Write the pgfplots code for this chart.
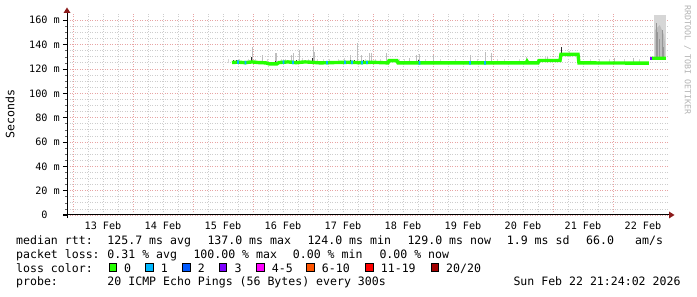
\documentclass[border=0pt]{standalone}
\usepackage{pgfplots}
\pgfplotsset{compat=1.18}
\usepackage{fontspec}
\setmainfont{DejaVu Sans Mono}
\definecolor{lc0}{HTML}{26FF00}
\definecolor{lc1}{HTML}{00B8FF}
\definecolor{lc2}{HTML}{0059FF}
\definecolor{lc3}{HTML}{7E00FF}
\definecolor{lc4}{HTML}{FF00FF}
\definecolor{lc6}{HTML}{FF5500}
\definecolor{lc11}{HTML}{FF0000}
\definecolor{lc20}{HTML}{A10000}
\definecolor{mgrid}{HTML}{E8A4A4}
\definecolor{ngrid}{HTML}{CDCDCD}
\definecolor{arrowred}{HTML}{8B1A1A}
\definecolor{smokeL}{HTML}{D6D6D6}
\definecolor{smokeM}{HTML}{BEBEBE}
\definecolor{smokeD}{HTML}{969696}
\definecolor{smokeK}{HTML}{303030}
\newcommand{\lf}{\fontsize{11.6}{13}\selectfont}
\newcommand{\tf}{\fontsize{10.2}{12}\selectfont}
\begin{document}
\begin{tikzpicture}
\path[use as bounding box] (0,0) rectangle (697bp,297bp);
\begin{axis}[
  at={(67bp,82bp)}, anchor=south west,
  scale only axis, width=601bp, height=202bp,
  xmin=-0.1, xmax=9.917, ymin=0, ymax=166,
  axis lines*=left, axis line style={draw=none},
  xtick={0,1,2,3,4,5,6,7,8,9},
  xticklabels={13 Feb,14 Feb,15 Feb,16 Feb,17 Feb,18 Feb,19 Feb,20 Feb,21 Feb,22 Feb},
  minor x tick num=3,
  ytick={0,20,40,60,80,100,120,140,160},
  yticklabels={0\hphantom{0m},20 m,40 m,60 m,80 m,100 m,120 m,140 m,160 m},
  minor y tick num=3,
  grid=both,
  major grid style={mgrid, line width=0.8bp, dash pattern=on 1bp off 1.5bp},
  minor grid style={ngrid, line width=0.8bp, dash pattern=on 1bp off 1.5bp},
  tick align=outside, major tick length=4bp, minor tick length=2bp,
  ytick style={black, line width=0.6bp},
  every minor y tick/.append style={black!60},
  xtick style={draw=none},
  xticklabel style={font=\tf, xshift=30bp, yshift=-2.5bp, anchor=north, inner sep=0pt},
  yticklabel style={font=\tf, anchor=east, inner sep=0pt, xshift=-3bp},
  unbounded coords=jump,
]
% big smoke block at the end
\addplot[fill=smokeL, draw=none] coordinates {(9.683,128) (9.683,164.4) (9.883,164.4) (9.883,128)} -- cycle;
\addplot[fill=smokeM, draw=none] coordinates {(9.70,128) (9.70,152) (9.78,156) (9.85,148) (9.87,140) (9.87,128)} -- cycle;
\addplot[smokeD, line width=1bp] coordinates {
(9.717,128) (9.717,158) (nan,nan)
(9.75,128) (9.75,150) (nan,nan)
(9.783,128) (9.783,145) (nan,nan)
(9.817,128) (9.817,152) (nan,nan)
(9.85,128) (9.85,138)
};
% light smoke sticks
\addplot[smokeL, line width=1bp] coordinates {
(2.600,125) (2.600,128.5) (nan,nan)
(2.783,125) (2.783,128) (nan,nan)
(2.917,125) (2.917,128.5) (nan,nan)
(3.050,125) (3.050,128) (nan,nan)
(3.250,125) (3.250,128.5) (nan,nan)
(3.467,125) (3.467,128.5) (nan,nan)
(3.550,125) (3.550,128) (nan,nan)
(3.833,125) (3.833,129) (nan,nan)
(3.917,125) (3.917,128.5) (nan,nan)
(4.083,125) (4.083,128) (nan,nan)
(4.183,125) (4.183,128.5) (nan,nan)
(4.283,125) (4.283,128) (nan,nan)
(4.417,125) (4.417,128.5) (nan,nan)
(4.517,125) (4.517,129) (nan,nan)
(4.883,125) (4.883,128.5) (nan,nan)
(5.050,125) (5.050,128) (nan,nan)
(5.117,125) (5.117,128.5) (nan,nan)
(5.450,125) (5.450,128) (nan,nan)
(5.533,125) (5.533,128.5) (nan,nan)
(5.867,125) (5.867,128) (nan,nan)
(6.117,125) (6.117,128) (nan,nan)
(6.367,125) (6.367,128) (nan,nan)
(6.750,125) (6.750,128.5) (nan,nan)
(7.083,125) (7.083,128) (nan,nan)
(7.200,125) (7.200,128) (nan,nan)
(7.450,125) (7.450,128) (nan,nan)
(7.867,125) (7.867,129.5) (nan,nan)
(8.283,130) (8.283,134.5) (nan,nan)
(8.617,125) (8.617,128) (nan,nan)
(8.783,125) (8.783,128) (nan,nan)
(8.950,125) (8.950,128) (nan,nan)
(9.200,125) (9.200,128) (nan,nan)
(9.450,125) (9.450,128)
};
% taller smoke spikes
\addplot[smokeM, line width=1bp] coordinates {
(2.988,125) (2.988,138.3) (nan,nan)
(3.162,125) (3.162,131.5) (nan,nan)
(3.367,125) (3.367,132.9) (nan,nan)
(3.400,125) (3.400,132.9) (nan,nan)
(3.645,125) (3.645,131.5) (nan,nan)
(3.683,125) (3.683,132.9) (nan,nan)
(3.783,125) (3.783,135.6) (nan,nan)
(4.005,125) (4.005,138.3) (nan,nan)
(4.022,125) (4.022,134.0) (nan,nan)
(4.617,125) (4.617,131.5) (nan,nan)
(4.750,125) (4.750,141.0) (nan,nan)
(4.812,125) (4.812,131.5) (nan,nan)
(4.950,125) (4.950,132.9) (nan,nan)
(4.983,125) (4.983,133.0) (nan,nan)
(5.217,125) (5.217,133.0) (nan,nan)
(5.605,125) (5.605,128.8) (nan,nan)
(5.733,125) (5.733,131.5) (nan,nan)
(5.772,125) (5.772,132.3) (nan,nan)
(6.005,125) (6.005,131.5) (nan,nan)
(6.617,125) (6.617,131.5) (nan,nan)
(6.883,125) (6.883,134.2) (nan,nan)
(6.978,125) (6.978,132.9) (nan,nan)
(7.562,125) (7.562,130.0) (nan,nan)
(7.905,125) (7.905,129.6) (nan,nan)
(9.033,125) (9.033,128.8) (nan,nan)
(9.338,125) (9.338,128.8)
};
% dense (dark) smoke near the median
\addplot[smokeK, line width=1bp] coordinates {
(2.683,124.5) (2.683,127) (nan,nan)
(2.717,124.5) (2.717,127) (nan,nan)
(2.967,124.5) (2.967,130) (nan,nan)
(3.383,124) (3.383,126.5) (nan,nan)
(3.717,124.5) (3.717,127) (nan,nan)
(4.000,124.5) (4.000,129) (nan,nan)
(4.617,124.5) (4.617,127) (nan,nan)
(4.700,124.5) (4.700,127) (nan,nan)
(4.850,124.5) (4.850,127) (nan,nan)
(5.267,124.5) (5.267,127.5) (nan,nan)
(5.400,124.5) (5.400,127.5) (nan,nan)
(5.758,124.5) (5.758,127) (nan,nan)
(7.567,124.5) (7.567,127.5) (nan,nan)
(7.767,124.5) (7.767,127.8) (nan,nan)
(8.125,126.5) (8.125,132.5) (nan,nan)
(8.150,131) (8.150,137.8) (nan,nan)
(8.425,124.5) (8.425,132.5)
};
% median rtt, loss 0
\addplot[lc0, line width=3.4bp] coordinates {
(2.650,125.3) (2.750,125.6) (2.867,125.2) (2.983,125.8) (3.083,125.3)
(3.217,125.0) (3.267,124.2) (3.400,124.2) (3.433,125.3) (3.583,125.8)
(3.717,125.2) (3.867,125.8) (3.983,125.5) (4.117,125.0) (4.367,125.3)
(4.583,125.5) (4.783,125.2) (4.983,125.5) (5.250,125.0) (5.267,126.8)
(5.400,126.8) (5.417,125.0) (5.783,125.0) (6.117,125.0) (7.550,125.0)
(7.567,126.3) (7.583,125.0) (7.750,125.0) (7.767,127.0) (8.117,127.0)
(8.133,132.0) (8.417,132.0) (8.433,125.0) (9.600,124.8)
(9.610,nan)
(9.640,128.8) (9.883,128.8)
};
% median rtt, loss 1
\addplot[lc1, line width=3.4bp] coordinates {
(2.735,125.6) (2.765,125.6) (nan,nan)
(2.860,125.2) (2.890,125.3) (nan,nan)
(3.493,125.5) (3.523,125.6) (nan,nan)
(3.652,125.4) (3.682,125.3) (nan,nan)
(4.218,125.2) (4.248,125.2) (nan,nan)
(4.518,125.5) (4.548,125.5) (nan,nan)
(4.635,125.4) (4.665,125.4) (nan,nan)
(4.802,125.2) (4.832,125.2) (nan,nan)
(4.885,125.3) (4.915,125.3) (nan,nan)
(5.760,125.0) (5.790,125.0) (nan,nan)
(6.602,125.0) (6.632,125.0) (nan,nan)
(6.852,125.0) (6.882,125.0)
};
% loss 3 mark after the outage
\addplot[lc3, line width=2.5bp] coordinates {(9.622,128.8) (9.642,128.8)};
\end{axis}
% axis lines and arrows
\begin{scope}[x=1bp,y=-1bp,shift={(0,297bp)}]
\draw[black, line width=1bp] (63,215) -- (669,215);
\draw[black, line width=1bp] (67,218) -- (67,12);
\fill[arrowred] (669,211.5) -- (674.5,215) -- (669,218.5) -- cycle;
\fill[arrowred] (63.5,13) -- (67,7.5) -- (70.5,13) -- cycle;
% y label and watermark
\node[rotate=90, font=\lf, inner sep=0pt] at (10,114) {Seconds};
\node[rotate=-90, anchor=west, font=\fontsize{8.3}{10}\selectfont, text=black!30, inner sep=0pt] at (687.5,5) {RRDTOOL / TOBI OETIKER};
% legend text
\begin{scope}[every node/.style={anchor=base west, inner sep=0pt, font=\lf}]
\node at (16,245) {median rtt:};
\node at (107.3,245) {125.7 ms avg};
\node at (207.3,245) {137.0 ms max};
\node at (307.3,245) {124.0 ms min};
\node at (407.3,245) {129.0 ms now};
\node at (506.7,245) {1.9 ms sd};
\node at (586,245) {66.0};
\node at (635,245) {am/s};
\node at (16,258.7) {packet loss:};
\node at (107.3,258.7) {0.31 \% avg};
\node at (193.3,258.7) {100.00 \% max};
\node at (292.7,258.7) {0.00 \% min};
\node at (379.3,258.7) {0.00 \% now};
\node at (16,272.4) {loss color:};
\node at (124,272.4) {0};
\node at (160.7,272.4) {1};
\node at (197.7,272.4) {2};
\node at (234.3,272.4) {3};
\node at (271.7,272.4) {4-5};
\node at (321.7,272.4) {6-10};
\node at (380.7,272.4) {11-19};
\node at (446,272.4) {20/20};
\node at (16,286) {probe:};
\node at (107.3,286) {20 ICMP Echo Pings (56 Bytes) every 300s};
\node at (513.3,286) {Sun Feb 22 21:24:02 2026};
\end{scope}
\foreach \xx/\cc in {109/lc0,145.7/lc1,182.7/lc2,219.3/lc3,256.7/lc4,306.7/lc6,365.7/lc11,431/lc20}{
  \filldraw[fill=\cc, draw=black, line width=0.8bp] (\xx,263.8) rectangle ++(7.5,7.5);
}
\end{scope}
\end{tikzpicture}
\end{document}
